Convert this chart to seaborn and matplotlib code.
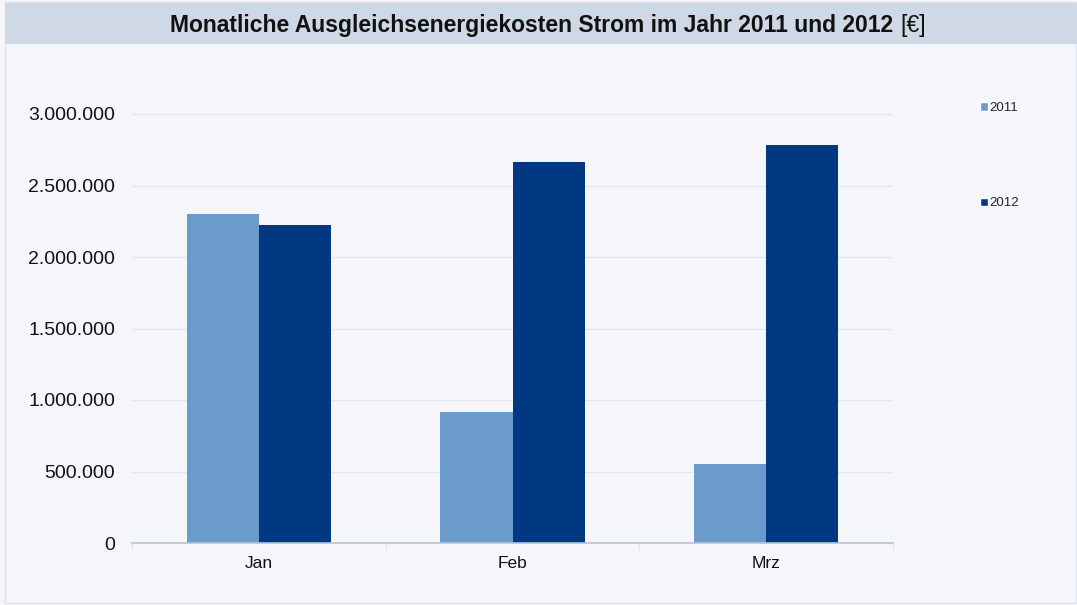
import matplotlib
matplotlib.use("Agg")
import matplotlib.pyplot as plt
import matplotlib.ticker as mticker
from matplotlib.patches import Rectangle, Patch
import pandas as pd
import seaborn as sns

months = ["Jan", "Feb", "Mrz"]
years = ["2011", "2012"]
costs_2011 = [2300000, 915000, 552000]
costs_2012 = [2222000, 2664000, 2783000]
colors = {"2011": "#6a9bcb", "2012": "#003882"}

df = pd.DataFrame({
    "Monat": months * 2,
    "Jahr": ["2011"] * 3 + ["2012"] * 3,
    "Kosten": costs_2011 + costs_2012,
})

sns.set_theme(style="white")
plt.rcParams["font.family"] = ["Liberation Sans", "DejaVu Sans"]

W, H = 1077, 605
fig = plt.figure(figsize=(W / 100, H / 100), dpi=100)
bg = "#f5f6fa"
fig.patch.set_facecolor(bg)

# outer frame and title bar
fig.add_artist(Rectangle((5 / W, 2 / H), (W - 6) / W, (H - 4) / H, transform=fig.transFigure,
                         facecolor="none", edgecolor="#dde2ea", lw=1))
fig.add_artist(Rectangle((5 / W, 1 - 44 / H), (W - 5) / W, 41 / H, transform=fig.transFigure,
                         facecolor="#cfd9e5", edgecolor="none"))

ax = fig.add_axes([132 / W, 1 - 543 / H, 761 / W, 429 / H])
ax.set_facecolor(bg)
sns.barplot(data=df, x="Monat", y="Kosten", hue="Jahr", order=months, hue_order=years,
            palette=colors, width=0.57, saturation=1, ax=ax, legend=False,
            edgecolor="none", linewidth=0)

ax.set_ylim(0, 3000000)
ax.set_xlim(-0.5, 2.5)
ax.yaxis.set_major_locator(mticker.MultipleLocator(500000))
ax.yaxis.set_major_formatter(mticker.FuncFormatter(lambda v, p: f"{int(v):,}".replace(",", ".")))
ax.grid(axis="y", color="#e1e5ee", lw=0.9)
ax.set_axisbelow(True)
for s in ["top", "right", "left"]:
    ax.spines[s].set_visible(False)
ax.spines["bottom"].set_color("#b7c2d4")
ax.spines["bottom"].set_linewidth(1.2)
ax.set_xlabel("")
ax.set_ylabel("")
ax.tick_params(axis="y", length=0, pad=12, labelsize=14, labelcolor="#111111")
ax.tick_params(axis="x", which="major", length=0, pad=9, labelsize=12.5, labelcolor="#111111")
ax.set_xticks([-0.5, 0.5, 1.5, 2.5], minor=True)
ax.tick_params(axis="x", which="minor", length=5, color="#dfe3ea", width=1, bottom=True)

handles = [Patch(facecolor=colors[y], label=y) for y in years]
leg = fig.legend(handles=handles, loc="upper left", bbox_to_anchor=(975 / W, 1 - 97 / H),
                 frameon=False, fontsize=9.5, handlelength=0.6, handleheight=0.6,
                 handletextpad=0.12, labelspacing=6.3, borderaxespad=0)

# title: bold part plus normal unit
fig.canvas.draw()
r = fig.canvas.get_renderer()
t1 = fig.text(0, 0, "Monatliche Ausgleichsenergiekosten Strom im Jahr 2011 und 2012 ",
              fontsize=16.5, fontweight="bold", color="#111111")
t2 = fig.text(0, 0, "[€]", fontsize=16.5, color="#111111")
w1 = t1.get_window_extent(r).width
w2 = t2.get_window_extent(r).width
x0 = 548 - (w1 + w2) / 2
ty = 1 - 32 / H
t1.set_position((x0 / W, ty))
t2.set_position(((x0 + w1) / W, ty))

fig.savefig("out.png", dpi=100, facecolor=bg)
